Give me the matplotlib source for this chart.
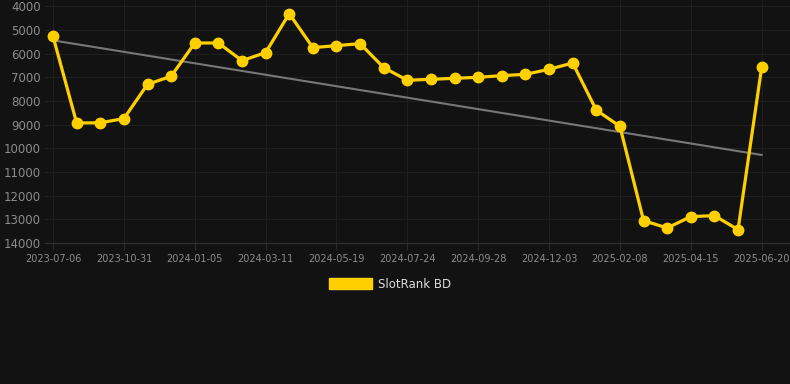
import matplotlib
matplotlib.use("Agg")
import matplotlib.pyplot as plt
from matplotlib.patches import Patch
import numpy as np

tick_labels = ["2023-07-06", "2023-10-31", "2024-01-05", "2024-03-11", "2024-05-19",
               "2024-07-24", "2024-09-28", "2024-12-03", "2025-02-08", "2025-04-15",
               "2025-06-20"]
rank = [5270, 8930, 8920, 8745, 7295, 6957, 5550, 5550, 6295, 5957,
        4310, 5746, 5662, 5577, 6590, 7126, 7084, 7042, 7000, 6930,
        6873, 6662, 6394, 8390, 9070, 13054, 13365, 12886, 12843, 13436,
        6577]
trend_ends = [5440, 10280]
series_name = "SlotRank BD"
y_ticks = [4000, 5000, 6000, 7000, 8000, 9000, 10000, 11000, 12000, 13000, 14000]

bg = "#121212"
yellow = "#FFD000"

fig = plt.figure(figsize=(7.9, 3.84), dpi=100, facecolor=bg)
ax = fig.add_axes([45 / 790, (384 - 243) / 384, 1 - 45 / 790, 243 / 384])
ax.set_facecolor(bg)

x = np.arange(len(rank))
ax.plot([x[0], x[-1]], trend_ends, color="#777777", lw=1.5, zorder=2)
ax.plot(x, rank, color=yellow, lw=2.3, marker="o", markersize=7.5, zorder=3)

ax.set_xlim(-0.34, 31.2)
ax.set_ylim(14000, 14000 - 243 / 23.67 * 1000)
ax.set_yticks(y_ticks)
ax.set_yticklabels([str(v) for v in y_ticks])
tick_pos = x[::3]
ax.set_xticks(tick_pos)
ax.set_xticklabels(tick_labels)

ax.grid(True, color="#1f1f1f", lw=0.8)
ax.set_axisbelow(True)
for s in ["top", "right", "left"]:
    ax.spines[s].set_visible(False)
ax.spines["bottom"].set_color("#333333")
ax.spines["bottom"].set_linewidth(0.8)

ax.tick_params(axis="y", length=0, pad=3, labelsize=8.5, labelcolor="#8c8c8c")
ax.tick_params(axis="x", length=5, color="#2a2a2a", pad=3, labelsize=7, labelcolor="#8c8c8c")

handle = Patch(facecolor=yellow, edgecolor=yellow)
leg = fig.legend([handle], [series_name], loc="center", bbox_to_anchor=(390 / 790, 1 - 284 / 384),
                 frameon=False, handlelength=3.6, handleheight=1.0, fontsize=8.5,
                 handletextpad=0.5)
for t in leg.get_texts():
    t.set_color("#dddddd")

fig.savefig("out.png", dpi=100, facecolor=bg)
